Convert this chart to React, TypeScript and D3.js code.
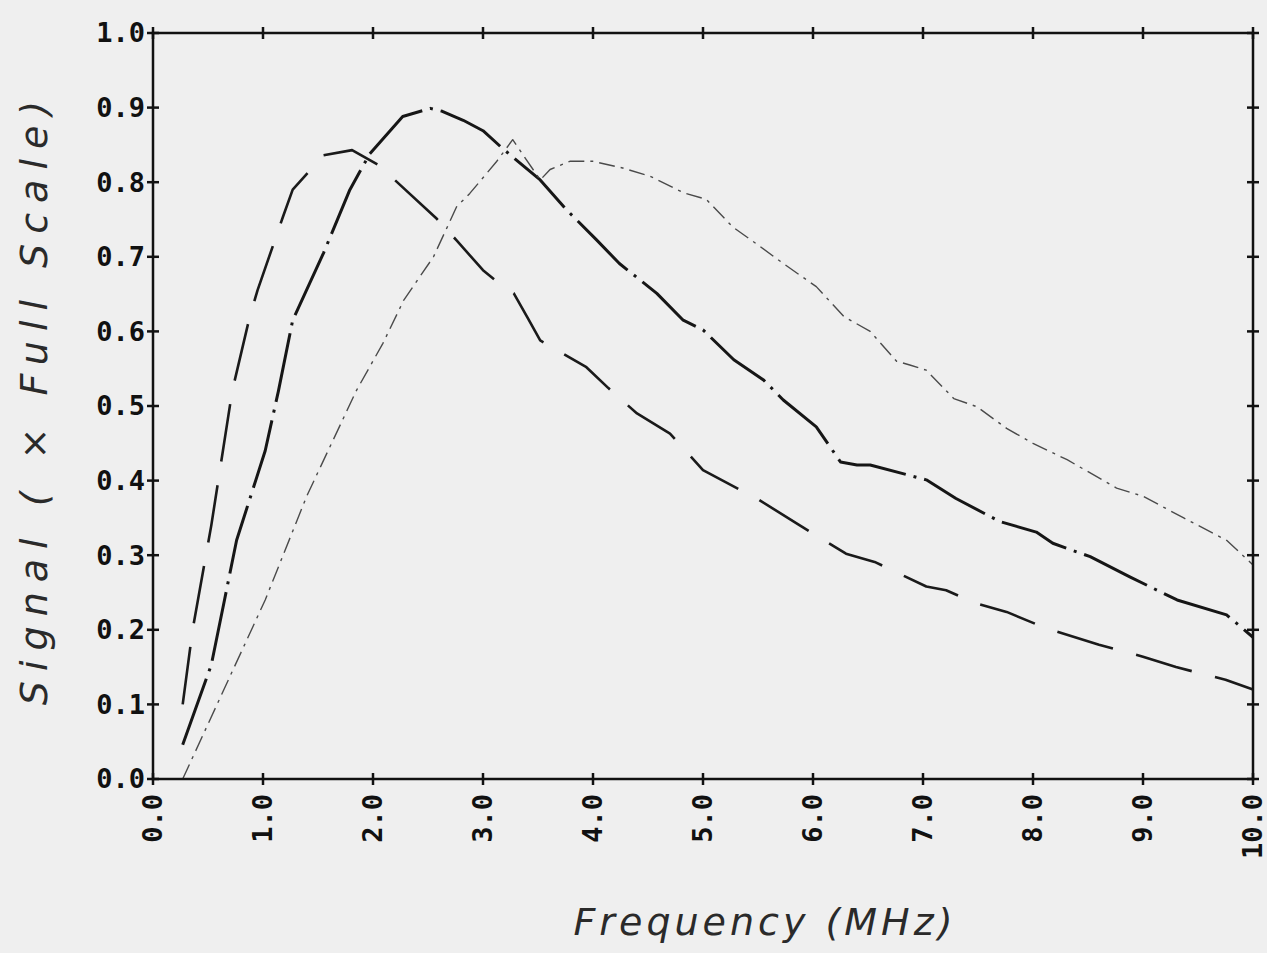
import React from "react";
import * as d3 from "d3";

// ---- data ----
const freqA = [0.27, 0.36, 0.53, 0.72, 0.88, 0.95, 1.18, 1.27, 1.55, 1.81, 2.05, 2.58, 2.76, 3.0, 3.15, 3.28, 3.41, 3.52, 3.94, 4.14, 4.4, 4.7, 5.0, 5.5, 5.88, 6.3, 6.56, 7.03, 7.21, 7.49, 7.76, 8.12, 8.6, 9.0, 9.3, 9.75, 10.0];
const sigA = [0.1, 0.2, 0.34, 0.52, 0.62, 0.655, 0.753, 0.79, 0.836, 0.843, 0.823, 0.751, 0.722, 0.682, 0.664, 0.651, 0.617, 0.588, 0.552, 0.524, 0.49, 0.463, 0.414, 0.375, 0.34, 0.302, 0.291, 0.258, 0.253, 0.235, 0.224, 0.202, 0.18, 0.164, 0.15, 0.133, 0.12];

const freqB = [0.27, 0.53, 0.65, 0.76, 1.02, 1.14, 1.27, 1.55, 1.79, 1.97, 2.27, 2.52, 2.63, 2.82, 3.0, 3.18, 3.52, 3.76, 4.03, 4.24, 4.58, 4.82, 5.0, 5.28, 5.55, 5.73, 6.03, 6.25, 6.4, 6.52, 7.03, 7.3, 7.7, 8.03, 8.18, 8.52, 8.88, 9.06, 9.31, 9.76, 10.0];
const sigB = [0.046, 0.153, 0.24, 0.32, 0.44, 0.52, 0.615, 0.705, 0.79, 0.838, 0.888, 0.899, 0.895, 0.883, 0.869, 0.845, 0.803, 0.763, 0.723, 0.691, 0.651, 0.615, 0.602, 0.562, 0.535, 0.508, 0.472, 0.425, 0.421, 0.421, 0.401, 0.376, 0.345, 0.331, 0.316, 0.298, 0.271, 0.258, 0.24, 0.22, 0.19];

const freqC = [0.27, 1.02, 1.4, 1.85, 2.09, 2.28, 2.55, 2.76, 2.88, 3.12, 3.27, 3.52, 3.61, 3.79, 4.0, 4.27, 4.52, 4.82, 5.03, 5.27, 5.48, 5.73, 6.03, 6.28, 6.52, 6.76, 6.88, 7.03, 7.28, 7.49, 7.76, 8.0, 8.31, 8.76, 9.0, 9.37, 9.76, 10.0];
const sigC = [0.0, 0.24, 0.38, 0.521, 0.584, 0.642, 0.7, 0.767, 0.785, 0.827, 0.857, 0.803, 0.817, 0.828, 0.828, 0.819, 0.808, 0.786, 0.777, 0.74, 0.718, 0.691, 0.66, 0.62, 0.6, 0.56, 0.555, 0.548, 0.51, 0.499, 0.47, 0.45, 0.428, 0.39, 0.379, 0.35, 0.32, 0.287];

const xTicks = [0, 1, 2, 3, 4, 5, 6, 7, 8, 9, 10];
const xTickLabels = ["0.0", "1.0", "2.0", "3.0", "4.0", "5.0", "6.0", "7.0", "8.0", "9.0", "10.0"];
const yTicks = [0, 0.1, 0.2, 0.3, 0.4, 0.5, 0.6, 0.7, 0.8, 0.9, 1.0];
const yTickLabels = ["0.0", "0.1", "0.2", "0.3", "0.4", "0.5", "0.6", "0.7", "0.8", "0.9", "1.0"];

const W = 1267;
const H = 953;
const L = 153, R = 1253, T = 33, B = 779;

export default function App() {
  const x = d3.scaleLinear().domain([0, 10]).range([L, R]);
  const y = d3.scaleLinear().domain([0, 1]).range([B, T]);
  const mk = (fs: number[], vs: number[]) =>
    d3.line<number>().x((_, i) => x(fs[i])).y((v) => y(v))(vs) || "";

  const series = [
    { d: mk(freqA, sigA), dash: "58,24", w: 2.6, c: "#1a1a1a" },
    { d: mk(freqB, sigB), dash: "70,8,3,8", w: 3, c: "#161616" },
    { d: mk(freqC, sigC), dash: "16,6,3,6", w: 1.4, c: "#4a4a4a" },
  ];

  const tickFont = "'DejaVu Sans Mono', monospace";
  const titleFont = "'DejaVu Sans', sans-serif";

  return (
    <svg
      width={W}
      height={H}
      style={{ position: "absolute", left: 0, top: 0, background: "#efefef" }}
    >
      <rect x={0} y={0} width={W} height={H} fill="#efefef" />
      {series.map((s, i) => (
        <path key={i} d={s.d} fill="none" stroke={s.c} strokeWidth={s.w} strokeDasharray={s.dash} strokeLinejoin="round" />
      ))}
      <rect x={L} y={T} width={R - L} height={B - T} fill="none" stroke="#111" strokeWidth={2.5} />
      {xTicks.map((t) => (
        <g key={"x" + t}>
          <line x1={x(t)} x2={x(t)} y1={B - 6} y2={B + 6} stroke="#111" strokeWidth={2.5} />
          <line x1={x(t)} x2={x(t)} y1={T - 6} y2={T + 6} stroke="#111" strokeWidth={2.5} />
        </g>
      ))}
      {yTicks.map((t) => (
        <g key={"y" + t}>
          <line x1={L - 6} x2={L + 6} y1={y(t)} y2={y(t)} stroke="#111" strokeWidth={2.5} />
          <line x1={R - 6} x2={R + 6} y1={y(t)} y2={y(t)} stroke="#111" strokeWidth={2.5} />
        </g>
      ))}
      {yTicks.map((t, i) => (
        <text key={"yl" + t} x={L - 8} y={y(t)} dy="0.35em" textAnchor="end" fontFamily={tickFont} fontWeight="bold" fontSize={27} fill="#111">
          {yTickLabels[i]}
        </text>
      ))}
      {xTicks.map((t, i) => (
        <text key={"xl" + t} transform={`translate(${x(t)},${B + 15}) rotate(-90)`} dy="0.35em" textAnchor="end" fontFamily={tickFont} fontWeight="bold" fontSize={27} fill="#111">
          {xTickLabels[i]}
        </text>
      ))}
      <text x={765} y={935} textAnchor="middle" fontFamily={titleFont} fontStyle="italic" fontSize={38} letterSpacing={4} fill="#2a2a2a">
        {"Frequency  (MHz)"}
      </text>
      <text transform={`translate(47,398) rotate(-90)`} textAnchor="middle" fontFamily={titleFont} fontStyle="italic" fontSize={38} letterSpacing={10} fill="#2a2a2a">
        {"Signal ( × Full Scale)"}
      </text>
    </svg>
  );
}
